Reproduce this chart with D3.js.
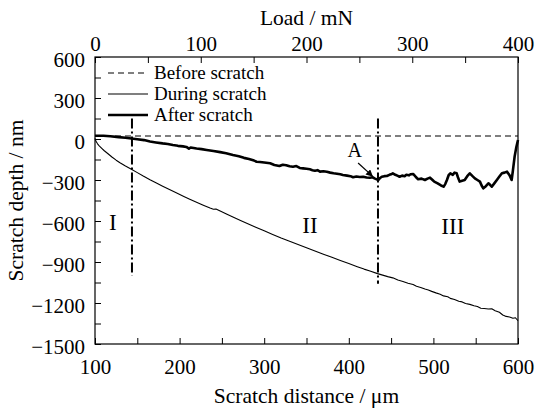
<!DOCTYPE html>
<html>
<head>
<meta charset="utf-8">
<script src="https://cdn.jsdelivr.net/npm/d3@7/dist/d3.min.js"></script>
<style>
	body { margin: 0; background: #fff; }
</style>
</head>
<body>
<div id="scratchChart"></div>
<script>

// scratch distance (um) / depth (nm)
var beforeDist  = [100, 600];
var beforeDepth = [22, 22];

var duringDist  = [100, 101, 103, 105, 108, 111, 115, 120, 125, 130, 136, 143, 150, 157, 165, 172, 180, 188, 196, 205,
	212, 220, 228, 236, 240, 243, 248, 256, 263, 272, 280, 290, 300, 310, 320, 330, 340, 350, 360, 370,
	380, 390, 400, 410, 418, 425, 434, 440, 446, 452, 458, 464, 470, 476, 480, 485, 490, 494, 498, 503,
	508, 512, 517, 520, 525, 530, 534, 538, 543, 548, 552, 556, 560, 565, 569, 573, 578, 582, 586, 590,
	594, 597, 600];
var duringDepth = [5, -15, -35, -50, -68, -86, -106, -132, -155, -176, -198, -221, -246, -271, -298, -320, -345, -369, -393, -420,
	-440, -462, -484, -505, -514, -512, -527, -550, -570, -596, -618, -645, -672, -698, -724, -748, -772, -796, -820, -843,
	-866, -889, -911, -934, -952, -966, -985, -996, -1007, -1016, -1032, -1042, -1055, -1064, -1078, -1086, -1098, -1105, -1115, -1126,
	-1136, -1148, -1154, -1166, -1174, -1187, -1192, -1204, -1210, -1220, -1226, -1238, -1240, -1244, -1242, -1256, -1268, -1288, -1298, -1302,
	-1312, -1308, -1330];

var afterDist  = [100, 110, 118, 128, 136, 143, 150, 158, 165, 172, 180, 186, 192, 198, 204, 208, 211, 213, 220, 226,
	232, 240, 248, 255, 263, 270, 276, 282, 288, 291, 295, 300, 307, 312, 318, 322, 326, 330, 334, 338,
	342, 346, 350, 354, 357, 360, 363, 366, 370, 374, 378, 382, 386, 390, 393, 398, 402, 405, 409, 413,
	417, 421, 425, 428, 431, 435, 437, 439, 442, 445, 448, 450, 452, 455, 458, 460, 463, 466, 468, 471,
	473, 476, 479, 482, 486, 490, 493, 496, 499, 501, 505, 509, 512, 514, 516, 518, 520, 523, 525, 527.5,
	529, 531, 534, 537, 540, 543, 546, 549, 552, 555, 557, 559, 562, 565, 567, 569, 572, 575, 578, 581,
	584, 587, 590, 592.5, 594, 596, 598, 600];
var afterDepth = [24, 24, 20, 14, 9, 4, -2, -8, -18, -25, -32, -36, -44, -50, -54, -58, -70, -62, -70, -74,
	-80, -88, -96, -104, -117, -126, -138, -146, -158, -166, -168, -172, -178, -190, -198, -188, -192, -200, -203, -198,
	-212, -215, -218, -222, -228, -232, -228, -239, -236, -240, -246, -251, -254, -258, -263, -268, -272, -280, -274, -278,
	-276, -282, -283, -280, -290, -300, -285, -276, -272, -271, -262, -258, -251, -262, -270, -276, -268, -272, -262, -266,
	-258, -256, -276, -295, -290, -300, -290, -283, -300, -312, -325, -340, -349, -330, -300, -265, -251, -262, -246, -251,
	-280, -312, -305, -300, -272, -251, -270, -288, -300, -312, -340, -361, -345, -324, -335, -349, -325, -300, -275, -251,
	-246, -239, -265, -300, -230, -129, -60, -7];

// dash-dot stage boundaries
var boundaryDist   = [143.7, 434.5];
var boundaryTop    = [150, 150];
var boundaryBottom = [-1000, -1060];

var stageNames = ["I", "II", "III"];
var legendNames = ["Before scratch", "During scratch", "After scratch"];

var distTicks  = d3.range(100, 601, 50);
var loadTicks  = d3.range(0, 401, 50);
var depthTicks = d3.range(-1500, 601, 150);

var serif = "'Liberation Serif', 'Times New Roman', serif";

function zip(xs, ys) {
	return xs.map(function(x, i) { return {x: x, y: ys[i]}; });
}

ScratchChart = function(_parentElement) {
	this.parentElement = _parentElement;
	this.initVis();
}

ScratchChart.prototype.initVis = function() {
	var vis = this;

	vis.margin = {top: 57, right: 19, bottom: 64, left: 95};
	vis.width = 537 - vis.margin.left - vis.margin.right;
	vis.height = 408 - vis.margin.top - vis.margin.bottom;

	vis.svg = d3.select("#" + vis.parentElement).append("svg")
		.attr("width", 537)
		.attr("height", 408)
		.style("font-family", serif)
	  .append("g")
		.attr("transform", "translate(" + vis.margin.left + "," + vis.margin.top + ")");

	vis.x = d3.scaleLinear().domain([100, 600]).range([0, vis.width]);
	vis.xTop = d3.scaleLinear().domain([0, 400]).range([0, vis.width]);
	vis.y = d3.scaleLinear().domain([-1500, 600]).range([vis.height, 0]);

	var major = function(step) {
		return function(d) { return d % step === 0 ? d3.format("")(d) : ""; };
	};

	vis.xAxis = d3.axisBottom(vis.x).tickValues(distTicks).tickSize(-6).tickPadding(15).tickFormat(major(100));
	vis.topAxis = d3.axisTop(vis.xTop).tickValues(loadTicks).tickSize(-6).tickPadding(6).tickFormat(major(100));
	vis.yAxis = d3.axisLeft(vis.y).tickValues(depthTicks).tickSize(-6).tickPadding(10).tickFormat(major(300));

	vis.svg.append("g").attr("class", "axis")
		.attr("transform", "translate(0," + vis.height + ")")
		.call(vis.xAxis);
	vis.svg.append("g").attr("class", "axis")
		.call(vis.topAxis);
	vis.svg.append("g").attr("class", "axis y-axis")
		.call(vis.yAxis);

	vis.svg.selectAll(".axis").attr("font-family", null).attr("font-size", null);
	vis.svg.selectAll(".axis .domain").remove();
	vis.svg.selectAll(".axis text").style("font-family", serif).style("font-size", "21px");
	vis.svg.selectAll(".axis line").attr("stroke", "#000");
	vis.svg.selectAll(".y-axis text").attr("dy", "0.46em");

	// frame
	vis.svg.append("rect")
		.attr("width", vis.width)
		.attr("height", vis.height)
		.attr("fill", "none")
		.attr("stroke", "#000")
		.attr("stroke-width", 1.2);

	// titles
	vis.svg.append("text")
		.text("Load / mN")
		.attr("x", vis.width / 2)
		.attr("y", -32)
		.attr("text-anchor", "middle")
		.style("font-size", "21.5px");
	vis.svg.append("text")
		.text("Scratch distance / \u03bcm")
		.attr("x", vis.width / 2)
		.attr("y", vis.height + 59)
		.attr("text-anchor", "middle")
		.style("font-size", "21.5px");
	vis.svg.append("text")
		.text("Scratch depth / nm")
		.attr("transform", "translate(-72," + (vis.height / 2) + ") rotate(-90)")
		.attr("text-anchor", "middle")
		.style("font-size", "21.5px");

	vis.line = d3.line()
		.x(function(d) { return vis.x(d.x); })
		.y(function(d) { return vis.y(d.y); });

	vis.updateVis();
}

ScratchChart.prototype.updateVis = function() {
	var vis = this;

	var series = [
		{name: legendNames[0], values: zip(beforeDist, beforeDepth), width: 1.2, dash: "6,4"},
		{name: legendNames[1], values: zip(duringDist, duringDepth), width: 1.1, dash: null},
		{name: legendNames[2], values: zip(afterDist, afterDepth), width: 2.6, dash: null}
	];

	vis.svg.selectAll(".series")
		.data(series)
		.enter().append("path")
		.attr("class", "series")
		.attr("d", function(d) { return vis.line(d.values); })
		.attr("fill", "none")
		.attr("stroke", "#000")
		.attr("stroke-width", function(d) { return d.width; })
		.attr("stroke-dasharray", function(d) { return d.dash; })
		.attr("stroke-linejoin", "round");

	// stage boundaries
	vis.svg.selectAll(".boundary")
		.data(boundaryDist)
		.enter().append("line")
		.attr("class", "boundary")
		.attr("x1", function(d) { return vis.x(d); })
		.attr("x2", function(d) { return vis.x(d); })
		.attr("y1", function(d, i) { return vis.y(boundaryTop[i]); })
		.attr("y2", function(d, i) { return vis.y(boundaryBottom[i]); })
		.attr("stroke", "#000")
		.attr("stroke-width", 2)
		.attr("stroke-dasharray", "10,3,2,3");

	// stage labels
	var stagePos = [[121, -607], [354, -630], [523, -637]];
	vis.svg.selectAll(".stage")
		.data(stageNames)
		.enter().append("text")
		.attr("class", "stage")
		.text(function(d) { return d; })
		.attr("x", function(d, i) { return vis.x(stagePos[i][0]); })
		.attr("y", function(d, i) { return vis.y(stagePos[i][1]); })
		.attr("dy", "0.35em")
		.attr("text-anchor", "middle")
		.style("font-size", "23px");

	// A with arrow
	vis.svg.append("defs").append("marker")
		.attr("id", "arrowHead")
		.attr("viewBox", "0 0 10 10")
		.attr("refX", 9).attr("refY", 5)
		.attr("markerWidth", 7).attr("markerHeight", 7)
		.attr("markerUnits", "userSpaceOnUse")
		.attr("orient", "auto")
	  .append("path")
		.attr("d", "M0,0L10,5L0,10z")
		.attr("fill", "#000");

	vis.svg.append("text")
		.text("A")
		.attr("x", vis.x(407))
		.attr("y", vis.y(-80))
		.attr("dy", "0.35em")
		.attr("text-anchor", "middle")
		.style("font-size", "20px");
	vis.svg.append("line")
		.attr("x1", vis.x(411)).attr("y1", vis.y(-176))
		.attr("x2", vis.x(428)).attr("y2", vis.y(-272))
		.attr("stroke", "#000")
		.attr("stroke-width", 1.2)
		.attr("marker-end", "url(#arrowHead)");

	// legend
	var legend = vis.svg.selectAll(".legend")
		.data(series)
		.enter().append("g")
		.attr("class", "legend")
		.attr("transform", function(d, i) { return "translate(13," + (16 + i * 21) + ")"; });

	legend.append("line")
		.attr("x1", 0).attr("x2", 40)
		.attr("stroke", "#000")
		.attr("stroke-width", function(d) { return d.width; })
		.attr("stroke-dasharray", function(d) { return d.dash; });

	legend.append("text")
		.text(function(d) { return d.name; })
		.attr("x", 46)
		.attr("dy", "0.32em")
		.style("font-size", "19px");
}

var chart = new ScratchChart("scratchChart");

</script>
</body>
</html>
